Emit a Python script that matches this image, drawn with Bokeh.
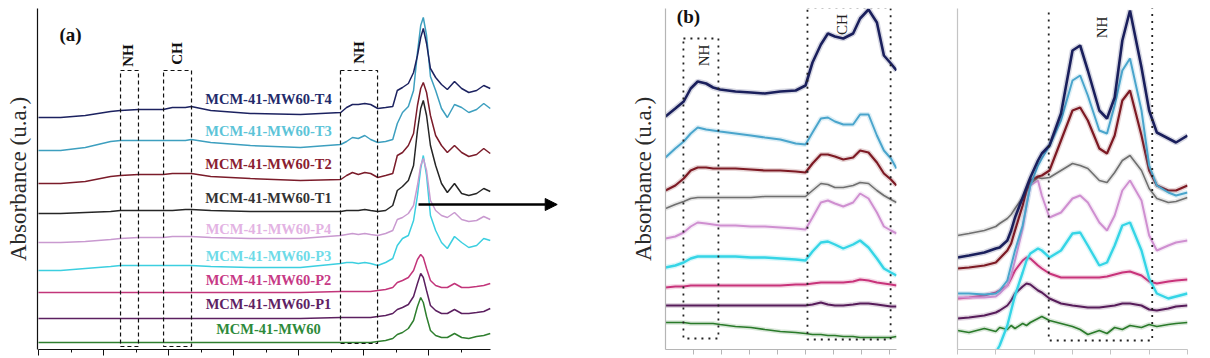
import numpy as np
from bokeh.plotting import figure
from bokeh.layouts import row
from bokeh.models import Range1d, FixedTicker, Arrow, NormalHead, CustomJSTickFormatter
from bokeh.embed import file_html
from bokeh.resources import INLINE
from bokeh.core.properties import value

# ---------------- data (wavenumber in cm-1, absorbance in arbitrary stacked units) -------------
series_names = ["MCM-41-MW60-T4", "MCM-41-MW60-T3", "MCM-41-MW60-T2", "MCM-41-MW60-T1",
                "MCM-41-MW60-P4", "MCM-41-MW60-P3", "MCM-41-MW60-P2", "MCM-41-MW60-P1",
                "MCM-41-MW60"]

# panel (a): full spectra
wn_a = [4000, 3830, 3640, 3445, 3370, 3230, 3040, 2970, 2870, 2825, 2675, 2370, 1985, 1675, 1630,
        1585, 1540, 1490, 1445, 1390, 1330, 1275, 1240, 1200, 1155, 1115, 1085, 1060, 1040, 1015,
        985, 945, 900, 855, 800, 745, 690, 630, 575, 525]
a_t4 = [230, 230, 232, 236, 237, 238, 238, 240, 240, 241, 237, 234, 233, 235, 240, 243, 243, 244, 243, 239,
        240, 241, 257, 260, 264, 275, 292, 310, 319, 304, 279, 270, 263, 258, 266, 259, 255, 257, 262, 259]
a_t3 = [197, 197, 200, 206, 207, 207, 207, 207, 207, 208, 205, 202, 200, 203, 206, 210, 209, 212, 208, 205,
        206, 208, 224, 235, 241, 257, 295, 322, 330, 312, 271, 257, 239, 230, 243, 240, 235, 238, 244, 239]
a_t2 = [164, 164, 166, 171, 172, 173, 173, 174, 174, 174, 171, 169, 167, 168, 172, 175, 173, 175, 174, 170,
        172, 174, 192, 195, 202, 214, 242, 259, 265, 255, 232, 212, 202, 195, 202, 195, 191, 193, 199, 194]
a_t1 = [134, 134, 135, 136, 137, 137, 137, 137, 138, 138, 137, 136, 136, 136, 137, 137, 137, 138, 137, 136,
        137, 142, 157, 161, 167, 182, 217, 239, 247, 232, 202, 182, 164, 155, 164, 154, 152, 154, 159, 156]
a_p4 = [105, 105, 106, 108, 109, 110, 110, 111, 111, 111, 110, 109, 109, 112, 113, 114, 113, 114, 113, 112,
        114, 117, 128, 130, 134, 142, 162, 182, 189, 177, 147, 137, 132, 130, 135, 128, 126, 127, 131, 128]
a_p3 = [77, 77, 79, 81, 82, 82, 82, 82, 82, 82, 81, 80, 80, 84, 85, 85, 84, 85, 84, 82,
        85, 89, 102, 109, 112, 127, 152, 179, 192, 172, 132, 117, 105, 99, 111, 105, 100, 102, 109, 107]
a_p2 = [55, 55, 55, 55, 55, 55, 55, 55, 55, 55, 55, 55, 55, 56, 56, 56, 56, 56, 56, 57,
        58, 60, 65, 67, 70, 77, 88, 93, 90, 79, 67, 62, 60, 60, 64, 60, 60, 61, 62, 64]
a_p1 = [29, 29, 29, 29, 29, 29, 29, 29, 29, 29, 29, 29, 29, 30, 30, 30, 30, 30, 30, 31,
        32, 34, 38, 40, 43, 51, 64, 74, 70, 57, 42, 37, 34, 34, 38, 34, 34, 35, 36, 39]
a_mw = [5, 5, 5, 5, 5, 5, 5, 5, 5, 5, 5, 5, 5, 5, 5, 5, 5, 5, 5, 6,
        7, 9, 13, 15, 19, 27, 41, 50, 45, 31, 17, 12, 10, 10, 14, 10, 9, 11, 12, 14]

# panel (b): 3550-2725 cm-1 zoom
wn_b = [3550, 3515, 3485, 3460, 3435, 3405, 3380, 3355, 3300, 3245, 3195, 3140, 3085, 3050, 3025,
        2995, 2970, 2945, 2915, 2880, 2855, 2825, 2795, 2770, 2745, 2725]
b_t4 = [231, 239, 246, 259, 266, 264, 260, 258, 256, 255, 254, 256, 257, 262, 285, 303, 314, 311, 309, 314,
        329, 338, 325, 292, 284, 277]
b_t3 = [190, 199, 206, 214, 220, 218, 217, 216, 214, 212, 210, 208, 204, 203, 215, 229, 230, 226, 223, 223,
        233, 233, 212, 197, 189, 179]
b_t2 = [157, 162, 169, 177, 180, 180, 179, 179, 179, 178, 177, 177, 176, 175, 184, 193, 193, 191, 188, 190,
        197, 195, 185, 174, 168, 162]
b_t1 = [139, 143, 146, 149, 150, 150, 150, 150, 150, 150, 151, 151, 151, 151, 157, 164, 163, 160, 160, 162,
        165, 164, 157, 152, 148, 145]
b_p4 = [109, 111, 115, 121, 125, 124, 123, 122, 122, 121, 121, 120, 119, 118, 130, 145, 147, 144, 141, 145,
        154, 149, 135, 121, 117, 114]
b_p3 = [80, 82, 85, 89, 91, 91, 91, 91, 91, 90, 90, 89, 88, 87, 96, 105, 106, 103, 99, 103,
        107, 100, 89, 79, 75, 72]
b_p2 = [60, 61, 61, 62, 62, 62, 62, 62, 62, 62, 62, 62, 63, 63, 64, 65, 65, 65, 65, 66,
        68, 67, 65, 64, 63, 62]
b_p1 = [42, 42, 42, 42, 42, 42, 42, 42, 42, 42, 42, 42, 42, 42, 43, 45, 43, 42, 42, 43,
        44, 44, 43, 42, 41, 41]
b_mw = [25, 25, 25, 24, 24, 24, 24, 23, 21, 20, 18, 16, 15, 14, 13, 13, 12, 12, 11, 11,
        10, 10, 10, 10, 10, 11]

# panel (c): 1750-1450 cm-1 zoom
wn_c = [1750, 1735, 1715, 1700, 1695, 1685, 1680, 1675, 1665, 1660, 1655, 1645, 1640, 1630, 1615,
        1600, 1590, 1580, 1565, 1555, 1545, 1535, 1525, 1510, 1500, 1490, 1475, 1465, 1450]
c_t4 = [90, 92, 95, 99, 100, 107, 117, 130, 150, 160, 170, 187, 194, 202, 234,
        297, 302, 277, 237, 229, 250, 307, 337, 280, 237, 215, 209, 205, 212]
c_t3 = [54, 54, 53, 54, 57, 67, 82, 97, 122, 142, 162, 182, 189, 202, 227,
        267, 272, 252, 217, 214, 242, 277, 289, 237, 182, 162, 155, 152, 155]
c_t2 = [79, 80, 82, 85, 89, 97, 104, 117, 142, 157, 167, 171, 172, 177, 207,
        237, 240, 227, 199, 194, 212, 247, 257, 212, 177, 162, 157, 157, 162]
c_t1 = [112, 114, 117, 121, 124, 129, 133, 139, 150, 157, 164, 170, 169, 170, 177,
        184, 182, 179, 167, 165, 175, 187, 192, 177, 159, 149, 145, 146, 150]
c_p4 = [50, 50, 50, 51, 54, 62, 72, 87, 119, 142, 162, 167, 152, 130, 135,
        149, 152, 145, 125, 117, 132, 157, 167, 147, 112, 97, 102, 105, 107]
c_p3 = [None, None, None, -5, 2, 22, 37, 52, 75, 87, 94, 99, 97, 90, 97,
        114, 115, 102, 82, 85, 102, 122, 125, 97, 69, 54, 49, 51, 54]
c_p2 = [49, 50, 52, 55, 57, 62, 69, 77, 87, 90, 89, 82, 79, 74, 70,
        70, 70, 70, 70, 71, 73, 75, 76, 72, 66, 64, 66, 67, 68]
c_p1 = [29, 30, 32, 35, 37, 42, 47, 54, 61, 64, 63, 57, 55, 49, 44,
        42, 41, 40, 40, 41, 42, 44, 44, 42, 38, 37, 39, 41, 42]
c_mw = [17, 15, 19, 16, 20, 18, 22, 19, 24, 22, 25, 29, 31, 27, 24,
        21, 18, 13, 17, 14, 20, 18, 22, 20, 23, 21, 23, 24, 25]

ticks_a = [4000, 3500, 3000, 2500, 2000, 1500, 1000]
minor_a = [3750, 3250, 2750, 2250, 1750, 1250, 750]
ticks_b = [3450, 3350, 3250, 3150, 3050, 2950, 2850, 2750]
ticks_c = [1750, 1700, 1650, 1600, 1550, 1500, 1450]

# ---------------- styling ----------------
SERIF = "Liberation Serif"
col_a = ["#1c2260", "#3d9fbf", "#7b1c2a", "#262626", "#c99ad0", "#3ccfe0", "#c2357a", "#5c2060", "#2f7f2f"]
col_bc = ["#1a1f5c", "#4aa5cc", "#7d1a24", "#6f6f6f", "#cf8fd0", "#35d5e6", "#c8337a", "#571c5a", "#2a7a2a"]
wid_bc = [2.6, 2.0, 2.2, 1.6, 2.0, 2.4, 2.0, 2.0, 1.6]
lab_col = ["#222a6a", "#5cc4d8", "#8a2030", "#333333", "#e3b3e3", "#6fdbe8", "#c73a86", "#5e2264", "#2e8a3a"]


def make_fig(width, left, right, xr, axis_color, ticks, minor, major_out, bounds=None):
    p = figure(width=width, height=357, x_range=Range1d(*xr), y_range=Range1d(-2, 339),
               output_backend="svg", toolbar_location=None,
               min_border_left=left, min_border_right=right, min_border_top=8, min_border_bottom=8)
    p.grid.visible = False
    p.outline_line_color = None
    xa = p.xaxis[0]
    xa.ticker = FixedTicker(ticks=ticks, minor_ticks=minor)
    xa.formatter = CustomJSTickFormatter(code="return '';")
    xa.major_label_text_font_size = "1px"
    xa.major_label_standoff = 0
    xa.major_tick_out = major_out
    xa.major_tick_in = 0
    xa.minor_tick_out = 3
    xa.minor_tick_in = 0
    xa.axis_line_color = axis_color
    xa.major_tick_line_color = axis_color
    xa.minor_tick_line_color = axis_color
    xa.axis_line_width = 1.2
    if bounds is not None:
        xa.bounds = bounds
    ya = p.yaxis[0]
    ya.ticker = FixedTicker(ticks=[])
    ya.major_tick_out = 0
    ya.minor_tick_out = 0
    ya.major_tick_line_color = None
    ya.minor_tick_line_color = None
    ya.major_label_standoff = 0
    ya.axis_line_color = axis_color
    ya.axis_line_width = 1.2
    return p


def ylabel(p, standoff):
    ya = p.yaxis[0]
    ya.axis_label = "Absorbance (u.a.)"
    ya.axis_label_text_font = SERIF
    ya.axis_label_text_font_style = "normal"
    ya.axis_label_text_font_size = "23px"
    ya.axis_label_text_color = "#2a2a2a"
    ya.axis_label_standoff = standoff


# ---------------- panel (a) ----------------
pa = make_fig(600, 37, 35, (4007.7, -53.8), "#111111", ticks_a, minor_a, 6, bounds=(4000, 523))
ylabel(pa, 7)
ys_a = [a_t4, a_t3, a_t2, a_t1, a_p4, a_p3, a_p2, a_p1, a_mw]
for ys, c in zip(reversed(ys_a), reversed(col_a)):
    pa.line(wn_a, ys, line_color=c, line_width=1.5)

# dashed assignment boxes
pa.quad(left=[3369, 3038, 1677], right=[3231, 2823, 1392], top=[277, 277, 277], bottom=[1, 1, 4],
        fill_alpha=0, line_color="#111111", line_dash="4 3", line_width=1.2)
pa.text(x=[3308, 2931, 1531], y=[292, 294, 295], text=["NH", "CH", "NH"], angle=np.pi / 2,
        text_align="center", text_baseline="middle", text_font=value(SERIF), text_font_style="bold",
        text_font_size="15px", text_color="#111111")

label_y = [249, 217, 184, 150, 119, 92, 68, 44, 19]
pa.text(x=[2231] * 9, y=label_y, text=series_names, text_color=lab_col, text_align="center",
        text_baseline="middle", text_font=value(SERIF), text_font_style="bold", text_font_size="14.5px")
pa.text(x=[3754], y=[313], text=["(a)"], text_align="center", text_baseline="middle",
        text_font=value(SERIF), text_font_style="bold", text_font_size="19px", text_color="#111111")
pa.add_layout(Arrow(end=NormalHead(size=12, fill_color="#000000", line_color="#000000"),
                    x_start=1077, y_start=143, x_end=10, y_end=143, line_width=2.5, line_color="#000000"))

# ---------------- panel (b) ----------------
pb = make_fig(330, 65, 34, (3550, 2725), "#b5b5b5", ticks_b, [], 5)
ylabel(pb, 10)
ys_b = [b_t4, b_t3, b_t2, b_t1, b_p4, b_p3, b_p2, b_p1, b_mw]
for i in reversed(range(9)):
    pb.line(wn_b, ys_b[i], line_color=col_bc[i], line_width=wid_bc[i] + 3, line_alpha=0.18)
    pb.line(wn_b, ys_b[i], line_color=col_bc[i], line_width=wid_bc[i])
pb.quad(left=[3486, 3043], right=[3361, 2746], top=[309, 340], bottom=[9, 8],
        fill_alpha=0, line_color="#222222", line_dash="2 5", line_width=1.8)
pb.text(x=[3414, 2918], y=[292, 323], text=["NH", "CH"], angle=np.pi / 2,
        text_align="center", text_baseline="middle", text_font=value(SERIF),
        text_font_size="15px", text_color="#222222")
pb.text(x=[3468], y=[331], text=["(b)"], text_align="center", text_baseline="middle",
        text_font=value(SERIF), text_font_style="bold", text_font_size="19px", text_color="#111111")

# ---------------- panel (c) ----------------
pc = make_fig(270, 27, 13, (1750, 1450), "#c4c4c4", ticks_c, [], 5)
ys_c = [c_t4, c_t3, c_t2, c_t1, c_p4, np.array(c_p3, dtype=float), c_p2, c_p1, c_mw]
for i in reversed(range(9)):
    pc.line(wn_c, ys_c[i], line_color=col_bc[i], line_width=wid_bc[i] + 3, line_alpha=0.18)
    pc.line(wn_c, ys_c[i], line_color=col_bc[i], line_width=wid_bc[i])
pc.quad(left=[1631], right=[1496], top=[342], bottom=[7],
        fill_alpha=0, line_color="#222222", line_dash="2 5", line_width=1.8)
pc.text(x=[1561], y=[320], text=["NH"], angle=np.pi / 2, text_align="center", text_baseline="middle",
        text_font=value(SERIF), text_font_size="15px", text_color="#222222")

layout = row(pa, pb, pc, spacing=0)
open("out.html", "w").write(file_html(layout, INLINE))
